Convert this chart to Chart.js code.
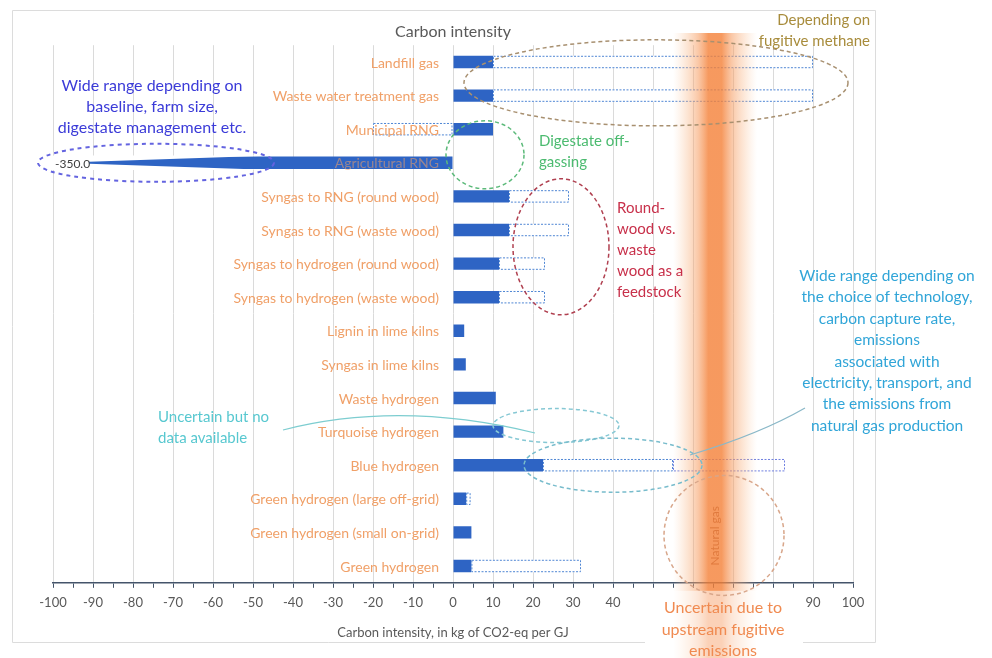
<!DOCTYPE html>
<html>
<head>
<meta charset="utf-8">
<title>Carbon intensity</title>
<script src="https://cdn.jsdelivr.net/npm/chart.js@4.4.1/dist/chart.umd.min.js"></script>
<style>
  body { margin: 0; background: #fff; }
  #wrap { width: 992px; height: 658px; position: relative; }
</style>
</head>
<body>
<div id="wrap"><canvas id="ciChart"></canvas></div>
<script>
// Carbon intensity of renewable gases, kg CO2-eq per GJ

const categories = [
    'Landfill gas',
    'Waste water treatment gas',
    'Municipal RNG',
    'Agricultural RNG',
    'Syngas to RNG (round wood)',
    'Syngas to RNG (waste wood)',
    'Syngas to hydrogen (round wood)',
    'Syngas to hydrogen (waste wood)',
    'Lignin in lime kilns',
    'Syngas in lime kilns',
    'Waste hydrogen',
    'Turquoise hydrogen',
    'Blue hydrogen',
    'Green hydrogen (large off-grid)',
    'Green hydrogen (small on-grid)',
    'Green hydrogen'
];

// central estimate (solid bar)
const centralValues = [10, 10, 10, -350, 14, 14, 11.5, 11.5, 2.8, 3.2, 10.7, 12.6, 22.5, 3.3, 4.6, 4.6];

// range (dotted box)
const rangeLow  = [10, 10, -20, null, 14, 14, 11.5, 11.5, null, null, null, null, 22.5, 3.3, null, 4.6];
const rangeHigh = [90, 90, 0, null, 29, 29, 23, 23, null, null, null, null, 55, 4.4, null, 32];

// blue hydrogen upper range
const extLow  = [null, null, null, null, null, null, null, null, null, null, null, null, 55, null, null, null];
const extHigh = [null, null, null, null, null, null, null, null, null, null, null, null, 83, null, null, null];

// x axis
const xMin = -100;
const xMax = 100;
const hiddenTicks = [50, 60, 70, 80];

// natural gas band
const naturalGasRange = [55, 76];

function pairs(lo, hi) {
    return lo.map((v, i) => (v === null ? null : [v, hi[i]]));
}

function ellipse(ctx, cx, cy, rx, ry, color, dash, width) {
    ctx.save();
    ctx.beginPath();
    ctx.ellipse(cx, cy, rx, ry, 0, 0, Math.PI * 2);
    ctx.setLineDash(dash);
    ctx.lineWidth = width;
    ctx.strokeStyle = color;
    ctx.stroke();
    ctx.restore();
}

function textBlock(ctx, lines, x, y, lh, font, color, align) {
    ctx.save();
    ctx.font = font;
    ctx.fillStyle = color;
    ctx.textAlign = align;
    ctx.textBaseline = 'middle';
    lines.forEach((t, i) => ctx.fillText(t, x, y + i * lh));
    ctx.restore();
}

// dotted borders, agricultural taper and category labels
const barDecor = {
    id: 'barDecor',
    afterDatasetsDraw(chart) {
        const ctx = chart.ctx;
        const xs = chart.scales.x;
        const ys = chart.scales.y;
        const area = chart.chartArea;

        [1, 2].forEach(di => {
            const meta = chart.getDatasetMeta(di);
            meta.data.forEach((el, i) => {
                if (chart.data.datasets[di].data[i] === null) return;
                const p = el.getProps(['x', 'base', 'y', 'height'], true);
                const left = Math.min(p.x, p.base);
                const w = Math.abs(p.x - p.base);
                ctx.save();
                ctx.setLineDash([2, 1.5]);
                ctx.lineWidth = 1;
                ctx.strokeStyle = di === 1 ? '#4f86d4' : '#6f7fe0';
                ctx.strokeRect(left + 0.5, p.y - p.height / 2 + 0.5, w - 1, p.height - 1);
                ctx.restore();
            });
        });

        // off-scale agricultural bar: taper and value label
        const agri = chart.getDatasetMeta(0).data[3];
        const a = agri.getProps(['y', 'height'], true);
        const top = a.y - a.height / 2;
        const bot = a.y + a.height / 2;
        const tipX = xs.getPixelForValue(-91);
        const fullX = xs.getPixelForValue(-45);
        ctx.save();
        ctx.fillStyle = '#fff';
        ctx.beginPath();
        ctx.moveTo(tipX, top - 1); ctx.lineTo(fullX, top - 1); ctx.lineTo(tipX, a.y - 1); ctx.closePath();
        ctx.moveTo(tipX, bot + 1); ctx.lineTo(fullX, bot + 1); ctx.lineTo(tipX, a.y + 1); ctx.closePath();
        ctx.fill();
        ctx.fillRect(area.left, top - 1, tipX - area.left, a.height + 2);
        ctx.font = '12px Lato';
        ctx.fillStyle = '#404040';
        ctx.textAlign = 'left';
        ctx.textBaseline = 'middle';
        ctx.fillText(centralValues[3].toFixed(1), area.left + 2, a.y + 1);
        ctx.restore();

        // category labels next to the zero line
        const zeroX = xs.getPixelForValue(0);
        ctx.save();
        ctx.font = '14px Lato';
        ctx.textAlign = 'right';
        ctx.textBaseline = 'middle';
        categories.forEach((c, i) => {
            ctx.fillStyle = i === 3 ? 'rgba(240,160,104,0.55)' : '#f0a068';
            ctx.fillText(c, zeroX - 14, ys.getPixelForValue(i) + 1);
        });
        ctx.restore();
    }
};

// frame, natural gas band and call-outs
const callouts = {
    id: 'callouts',
    beforeDraw(chart) {
        const ctx = chart.ctx;
        ctx.save();
        ctx.fillStyle = '#fff';
        ctx.fillRect(0, 0, chart.width, chart.height);
        ctx.strokeStyle = '#dcdcdc';
        ctx.lineWidth = 1;
        ctx.beginPath();
        ctx.moveTo(645, 642.5); ctx.lineTo(12.5, 642.5); ctx.lineTo(12.5, 10.5);
        ctx.lineTo(875.5, 10.5); ctx.lineTo(875.5, 642.5); ctx.lineTo(803, 642.5);
        ctx.stroke();
        ctx.restore();
    },
    afterDraw(chart) {
        const ctx = chart.ctx;
        const xs = chart.scales.x;
        const ys = chart.scales.y;
        const area = chart.chartArea;
        const px = v => xs.getPixelForValue(v);
        const py = r => ys.getPixelForValue(0) + r * (ys.getPixelForValue(1) - ys.getPixelForValue(0));

        // natural gas band
        const b0 = px(naturalGasRange[0]);
        const b1 = px(naturalGasRange[1]);
        const g = ctx.createLinearGradient(b0, 0, b1, 0);
        g.addColorStop(0, 'rgba(250,200,160,0)');
        g.addColorStop(0.15, 'rgba(248,180,130,0.3)');
        g.addColorStop(0.3, 'rgba(246,155,95,0.55)');
        g.addColorStop(0.42, 'rgba(244,128,55,0.8)');
        g.addColorStop(0.58, 'rgba(244,128,55,0.8)');
        g.addColorStop(0.7, 'rgba(246,155,95,0.55)');
        g.addColorStop(0.85, 'rgba(248,180,130,0.3)');
        g.addColorStop(1, 'rgba(250,200,160,0)');
        ctx.save();
        ctx.fillStyle = g;
        ctx.fillRect(b0, 33, b1 - b0, chart.height - 33);
        // lighter text box below the axis
        ctx.fillStyle = 'rgba(255,255,255,0.55)';
        ctx.fillRect(645, area.bottom + 8, 158, chart.height - area.bottom - 8);
        ctx.translate((b0 + b1) / 2, py(14.1));
        ctx.rotate(-Math.PI / 2);
        ctx.font = '12px Lato';
        ctx.fillStyle = '#e07a3e';
        ctx.textAlign = 'center';
        ctx.textBaseline = 'middle';
        ctx.fillText('Natural gas', 0, 0);
        ctx.restore();

        // ellipses
        ellipse(ctx, px(50.75), py(0.62), 192, 43, '#a89070', [4, 3], 1.5);
        ellipse(ctx, px(-74.25), py(3), 118, 19, '#6464e0', [4, 4], 2);
        ellipse(ctx, px(8), py(2.76), 39, 34, '#5cba7a', [4, 3], 1.5);
        ellipse(ctx, px(27), py(5.5), 48, 68, '#b04050', [4, 3], 1.5);
        ellipse(ctx, px(25.75), py(10.82), 63, 17, '#86c8d4', [4, 3], 1.5);
        ellipse(ctx, px(40), py(12), 89, 27, '#78bccc', [4, 3], 1.5);
        ellipse(ctx, px(67.75), py(14.09), 60, 60, '#d8a68a', [4, 3], 1.5);

        // leader lines
        ctx.save();
        ctx.lineWidth = 1.2;
        ctx.strokeStyle = '#7dcdd0';
        ctx.beginPath();
        ctx.moveTo(283, 430);
        ctx.quadraticCurveTo(400, 400, 535, 433);
        ctx.stroke();
        ctx.strokeStyle = '#8ab8c8';
        ctx.beginPath();
        ctx.moveTo(805, 408);
        ctx.quadraticCurveTo(760, 434, 690, 455);
        ctx.stroke();
        ctx.restore();

        // texts
        textBlock(ctx, ['Depending on', 'fugitive methane'], 870, 20, 21, '15px Lato', '#a88c3c', 'right');
        textBlock(ctx, ['Wide range depending on', 'baseline, farm size,', 'digestate management etc.'],
            152, 86, 21, '16px Lato', '#3b3bd8', 'center');
        textBlock(ctx, ['Digestate off-', 'gassing'], 539, 141, 21, '15px Lato', '#4cbb70', 'left');
        textBlock(ctx, ['Round-', 'wood vs.', 'waste', 'wood as a', 'feedstock'], 617, 208, 21, '15px Lato', '#c8304a', 'left');
        textBlock(ctx, ['Wide range depending on', 'the choice of technology,', 'carbon capture rate,', 'emissions',
            'associated with', 'electricity, transport, and', 'the emissions from', 'natural gas production'],
            887, 276, 21.4, '15.5px Lato', '#30a5d8', 'center');
        textBlock(ctx, ['Uncertain but no', 'data available'], 158, 417, 21, '15px Lato', '#58c8d0', 'left');
        textBlock(ctx, ['Uncertain due to', 'upstream fugitive', 'emissions'], 723, 608, 21.5, '16px Lato', '#f08a50', 'center');
    }
};

document.addEventListener('DOMContentLoaded', function () {
    Chart.defaults.font.family = 'Lato';

    new Chart(document.getElementById('ciChart'), {
        type: 'bar',
        data: {
            labels: categories,
            datasets: [
                {
                    label: 'Central',
                    data: centralValues,
                    backgroundColor: '#2e64c4',
                    grouped: false,
                    barPercentage: 0.37,
                    categoryPercentage: 1
                },
                {
                    label: 'Range',
                    data: pairs(rangeLow, rangeHigh),
                    backgroundColor: '#ffffff',
                    grouped: false,
                    barPercentage: 0.37,
                    categoryPercentage: 1
                },
                {
                    label: 'Upper range',
                    data: pairs(extLow, extHigh),
                    backgroundColor: 'rgba(255,255,255,0)',
                    grouped: false,
                    barPercentage: 0.37,
                    categoryPercentage: 1
                }
            ]
        },
        options: {
            indexAxis: 'y',
            responsive: true,
            maintainAspectRatio: false,
            animation: false,
            layout: { padding: { left: 53, right: 139, top: 0, bottom: 17 } },
            plugins: {
                legend: { display: false },
                tooltip: { enabled: false },
                title: {
                    display: true,
                    text: 'Carbon intensity',
                    color: '#595959',
                    font: { size: 16, weight: 'normal' },
                    padding: { top: 22, bottom: 4 }
                }
            },
            scales: {
                x: {
                    min: xMin,
                    max: xMax,
                    ticks: {
                        stepSize: 5,
                        autoSkip: false,
                        maxRotation: 0,
                        padding: 7,
                        color: '#595959',
                        font: { size: 13 },
                        callback: v => (v % 10 !== 0 || hiddenTicks.includes(v)) ? '' : v
                    },
                    grid: {
                        color: c => (c.tick && c.tick.value % 10 === 0) ? '#dadada' : 'rgba(0,0,0,0)',
                        tickColor: '#44546a',
                        tickLength: 5
                    },
                    border: { color: '#44546a', width: 1.5 },
                    title: {
                        display: true,
                        text: 'Carbon intensity, in kg of CO2-eq per GJ',
                        color: '#595959',
                        font: { size: 13 },
                        padding: { top: 8, bottom: 0 }
                    }
                },
                y: {
                    display: false
                }
            }
        },
        plugins: [barDecor, callouts]
    });
});
</script>
</body>
</html>
